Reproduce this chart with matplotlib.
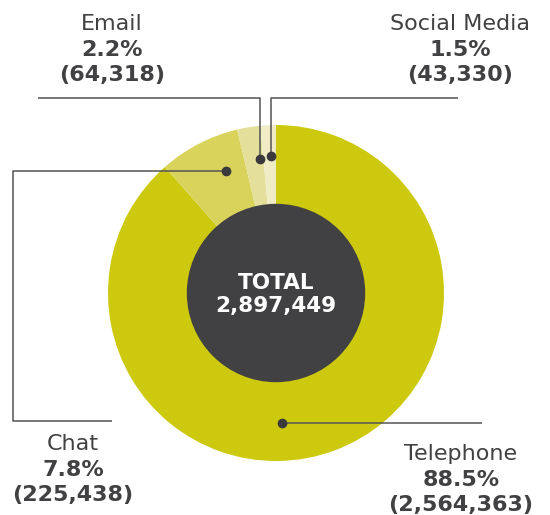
import matplotlib
matplotlib.use("Agg")
import matplotlib.pyplot as plt

# Contact volumes by channel
channels = ["Telephone", "Chat", "Email", "Social Media"]
counts = [2564363, 225438, 64318, 43330]
percents = ["88.5%", "7.8%", "2.2%", "1.5%"]
colors = ["#CDC90F", "#D9D35C", "#E4E09C", "#EFECC6"]
total_label = "TOTAL"

W, H = 550, 515
TEXT = "#414042"
LINE = "#535355"
plt.rcParams["font.family"] = ["DejaVu Sans"]

fig = plt.figure(figsize=(W / 100, H / 100), dpi=100)
ax = fig.add_axes([0, 0, 1, 1])

cx, cy, R = 276, H - 293, 168
ax.pie(counts, colors=colors, startangle=90, counterclock=False,
       center=(cx, cy), radius=R, wedgeprops=dict(linewidth=0))
ax.add_patch(plt.Circle((cx, cy), 88.5, color="#414042", zorder=3))

ax.set_xlim(0, W)
ax.set_ylim(0, H)
ax.set_aspect("equal")
ax.axis("off")

total = sum(counts)
ax.text(cx, H - 283, total_label, ha="center", va="center", color="white",
        fontsize=15.5, fontweight="bold", zorder=4)
ax.text(cx, H - 306, f"{total:,}", ha="center", va="center", color="white",
        fontsize=15.5, fontweight="bold", zorder=4)

# leader lines: anchor dot then elbow path (pixel layout, y from top)
leaders = {
    "Telephone": [(282, 423), (482, 423)],
    "Chat": [(226, 171), (13, 171), (13, 421), (112, 421)],
    "Email": [(260, 159), (260, 98), (38, 98)],
    "Social Media": [(271, 156), (271, 98), (458, 98)],
}
label_pos = {
    "Telephone": (461, 454),
    "Chat": (73, 444),
    "Email": (112, 24),
    "Social Media": (460, 24),
}

for name, pct, n in zip(channels, percents, counts):
    pts = leaders[name]
    xs = [p[0] for p in pts]
    ys = [H - p[1] for p in pts]
    ax.plot(xs, ys, color=LINE, lw=1.1, zorder=5, solid_capstyle="butt")
    ax.plot(xs[0], ys[0], "o", color="#3A3A3C", ms=6, zorder=6)
    lx, ly = label_pos[name]
    ax.text(lx, H - ly, name, ha="center", va="center", color=TEXT, fontsize=16)
    ax.text(lx, H - ly - 25.5, pct, ha="center", va="center", color=TEXT,
            fontsize=16, fontweight="bold")
    ax.text(lx, H - ly - 51, f"({n:,})", ha="center", va="center", color=TEXT,
            fontsize=16, fontweight="bold")

fig.savefig("out.png", dpi=100)
